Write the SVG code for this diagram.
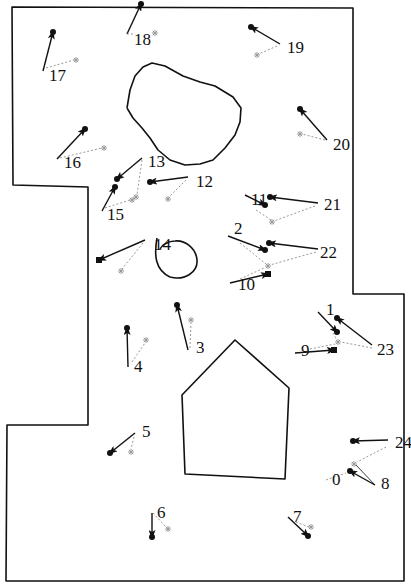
<svg xmlns="http://www.w3.org/2000/svg" width="411" height="585" viewBox="0 0 411 585">
<style>
.wall{fill:none;stroke:#111;stroke-width:1.6;stroke-linejoin:round}
.arr{stroke:#111;stroke-width:1.4;fill:none}
.dot{stroke:#999;stroke-width:1;stroke-dasharray:2 2;fill:none}
.pt{fill:#111}
.lbl{font-family:"Liberation Serif","Times New Roman",serif;font-size:17px;fill:#111}
.gm{stroke:#999;stroke-width:1;fill:none}
</style>
<defs>
<marker id="ah" markerUnits="userSpaceOnUse" markerWidth="9" markerHeight="7" refX="7" refY="3.5" orient="auto">
<path d="M0,0L9,3.5L0,7L2,3.5z" fill="#111"/>
</marker>
<g id="g"><path class="gm" d="M-3,0H3M0,-3V3M-2.2,-2.2L2.2,2.2M-2.2,2.2L2.2,-2.2"/></g>
</defs>
<rect width="411" height="585" fill="#fff"/>
<g id="walls">
<path class="wall" d="M12,7 L353,8 L353,294 L404,294 L404,581 L6,581 L7,425 L88,425 L88,187 L13,185 Z"/>
<polyline class="wall" points="127,108 130,90 135,76 143,67 152,63 165,66 183,76 200,82 215,86 233,97 241,108 240,122 235,135 225,148 213,160 200,164 185,165 170,160 158,150 150,138 142,128 133,118 127,108"/>
<path class="wall" d="M157,238 C154,255 155,270 170,277 C185,281 198,272 197,260 C196,248 185,240 175,241 C168,241 162,245 160,249"/>
<polygon class="wall" points="235,340 289,388 285,479 185,474 182,395"/>
</g>
<g id="connectors">
<line class="arr" x1="43" y1="71" x2="53" y2="32" marker-end="url(#ah)"/><line class="dot" x1="46" y1="68" x2="74" y2="60"/>
<line class="arr" x1="127" y1="34" x2="141" y2="4" marker-end="url(#ah)"/><line class="dot" x1="127" y1="34" x2="135" y2="34"/>
<line class="arr" x1="280" y1="44" x2="251" y2="27" marker-end="url(#ah)"/><line class="dot" x1="277" y1="46" x2="259" y2="54"/>
<line class="arr" x1="327" y1="140" x2="300" y2="109" marker-end="url(#ah)"/><line class="dot" x1="325" y1="140" x2="302" y2="134"/>
<line class="arr" x1="57" y1="159" x2="85" y2="129" marker-end="url(#ah)"/><line class="dot" x1="60" y1="158" x2="102" y2="148"/>
<line class="arr" x1="142" y1="158" x2="117" y2="179" marker-end="url(#ah)"/><line class="dot" x1="142" y1="160" x2="137" y2="195"/>
<line class="arr" x1="188" y1="177" x2="150" y2="182" marker-end="url(#ah)"/><line class="dot" x1="186" y1="180" x2="169" y2="197"/>
<line class="arr" x1="102" y1="211" x2="115" y2="187" marker-end="url(#ah)"/><line class="dot" x1="105" y1="208" x2="133" y2="199"/>
<line class="arr" x1="145" y1="240" x2="99" y2="260" marker-end="url(#ah)"/><line class="dot" x1="143" y1="243" x2="122" y2="269"/>
<line class="arr" x1="188" y1="350" x2="177" y2="305" marker-end="url(#ah)"/><line class="dot" x1="190" y1="348" x2="191" y2="323"/>
<line class="arr" x1="128" y1="367" x2="127" y2="328" marker-end="url(#ah)"/><line class="dot" x1="132" y1="362" x2="145" y2="343"/>
<line class="arr" x1="135" y1="433" x2="110" y2="453" marker-end="url(#ah)"/><line class="dot" x1="134" y1="437" x2="131" y2="449"/>
<line class="arr" x1="152" y1="513" x2="152" y2="537" marker-end="url(#ah)"/><line class="dot" x1="153" y1="513" x2="166" y2="527"/>
<line class="arr" x1="288" y1="517" x2="308" y2="536" marker-end="url(#ah)"/><line class="dot" x1="296" y1="522" x2="309" y2="527"/>
<line class="arr" x1="388" y1="440" x2="353" y2="441" marker-end="url(#ah)"/><line class="dot" x1="386" y1="447" x2="357" y2="462"/>
<line class="arr" x1="375" y1="485" x2="350" y2="471" marker-end="url(#ah)"/><line class="arr" style="stroke-width:0.8" x1="375" y1="485" x2="356" y2="465"/>
<line class="dot" x1="326" y1="480" x2="346" y2="473"/>
<line class="arr" x1="245" y1="195" x2="265" y2="205" marker-end="url(#ah)"/><line class="dot" x1="256" y1="210" x2="271" y2="220"/>
<line class="arr" x1="318" y1="203" x2="270" y2="197" marker-end="url(#ah)"/><line class="dot" x1="315" y1="206" x2="274" y2="221"/>
<line class="arr" x1="228" y1="236" x2="265" y2="250" marker-end="url(#ah)"/><line class="dot" x1="240" y1="243" x2="266" y2="264"/>
<line class="arr" x1="318" y1="249" x2="269" y2="243" marker-end="url(#ah)"/><line class="dot" x1="316" y1="252" x2="270" y2="265"/>
<line class="arr" x1="230" y1="283" x2="268" y2="274" marker-end="url(#ah)"/><line class="dot" x1="240" y1="279" x2="264" y2="268"/>
<line class="arr" x1="318" y1="312" x2="337" y2="332" marker-end="url(#ah)"/><line class="dot" x1="333" y1="333" x2="337" y2="340"/>
<line class="arr" x1="372" y1="345" x2="337" y2="318" marker-end="url(#ah)"/><line class="dot" x1="372" y1="348" x2="341" y2="342"/>
<line class="arr" x1="295" y1="353" x2="334" y2="350" marker-end="url(#ah)"/><line class="dot" x1="310" y1="349" x2="335" y2="344"/>
</g>
<g id="n17"><circle class="pt" cx="53" cy="32" r="3"/><use href="#g" x="76" y="60"/><text class="lbl" x="49" y="81">17</text></g>
<g id="n18"><circle class="pt" cx="141" cy="4" r="3"/><use href="#g" x="155" y="33"/><text class="lbl" x="134" y="45">18</text></g>
<g id="n19"><circle class="pt" cx="251" cy="27" r="3"/><use href="#g" x="257" y="55"/><text class="lbl" x="287" y="53">19</text></g>
<g id="n20"><circle class="pt" cx="300" cy="109" r="3"/><use href="#g" x="300" y="134"/><text class="lbl" x="333" y="150">20</text></g>
<g id="n16"><circle class="pt" cx="85" cy="129" r="3"/><use href="#g" x="104" y="148"/><text class="lbl" x="64" y="168">16</text></g>
<g id="n13"><circle class="pt" cx="117" cy="179" r="3"/><use href="#g" x="136" y="197"/><text class="lbl" x="148" y="167">13</text></g>
<g id="n12"><circle class="pt" cx="150" cy="182" r="3"/><use href="#g" x="168" y="199"/><text class="lbl" x="196" y="187">12</text></g>
<g id="n15"><circle class="pt" cx="115" cy="187" r="3"/><use href="#g" x="132" y="200"/><text class="lbl" x="107" y="220">15</text></g>
<g id="n14"><rect class="pt" x="96" y="257" width="6" height="6"/><use href="#g" x="121" y="271"/><text class="lbl" x="154" y="250">14</text></g>
<g id="n3"><circle class="pt" cx="177" cy="305" r="3"/><use href="#g" x="191" y="320"/><text class="lbl" x="196" y="353">3</text></g>
<g id="n4"><circle class="pt" cx="127" cy="328" r="3"/><use href="#g" x="146" y="340"/><text class="lbl" x="134" y="372">4</text></g>
<g id="n5"><circle class="pt" cx="110" cy="453" r="3"/><use href="#g" x="131" y="452"/><text class="lbl" x="142" y="437">5</text></g>
<g id="n6"><circle class="pt" cx="152" cy="537" r="3"/><use href="#g" x="168" y="529"/><text class="lbl" x="157" y="518">6</text></g>
<g id="n7"><circle class="pt" cx="308" cy="536" r="3"/><use href="#g" x="311" y="527"/><text class="lbl" x="293" y="522">7</text></g>
<g id="n24"><circle class="pt" cx="353" cy="441" r="3"/><use href="#g" x="354" y="464"/><text class="lbl" x="395" y="448">24</text></g>
<g id="n8"><circle class="pt" cx="350" cy="471" r="3"/><text class="lbl" x="381" y="489">8</text></g>
<g id="n0"><text class="lbl" x="332" y="485">0</text></g>
<g id="n11"><circle class="pt" cx="265" cy="205" r="3"/><use href="#g" x="272" y="222"/><text class="lbl" x="251" y="205">11</text></g>
<g id="n21"><circle class="pt" cx="270" cy="197" r="3"/><text class="lbl" x="324" y="210">21</text></g>
<g id="n2"><circle class="pt" cx="265" cy="250" r="3"/><use href="#g" x="268" y="266"/><text class="lbl" x="234" y="234">2</text></g>
<g id="n22"><circle class="pt" cx="269" cy="243" r="3"/><text class="lbl" x="320" y="258">22</text></g>
<g id="n10"><rect class="pt" x="265" y="271" width="6" height="6"/><text class="lbl" x="238" y="290">10</text></g>
<g id="n1"><circle class="pt" cx="337" cy="332" r="3"/><use href="#g" x="338" y="342"/><text class="lbl" x="326" y="315">1</text></g>
<g id="n23"><circle class="pt" cx="337" cy="318" r="3"/><text class="lbl" x="377" y="355">23</text></g>
<g id="n9"><rect class="pt" x="331" y="347" width="6" height="6"/><text class="lbl" x="301" y="356">9</text></g>
</svg>
